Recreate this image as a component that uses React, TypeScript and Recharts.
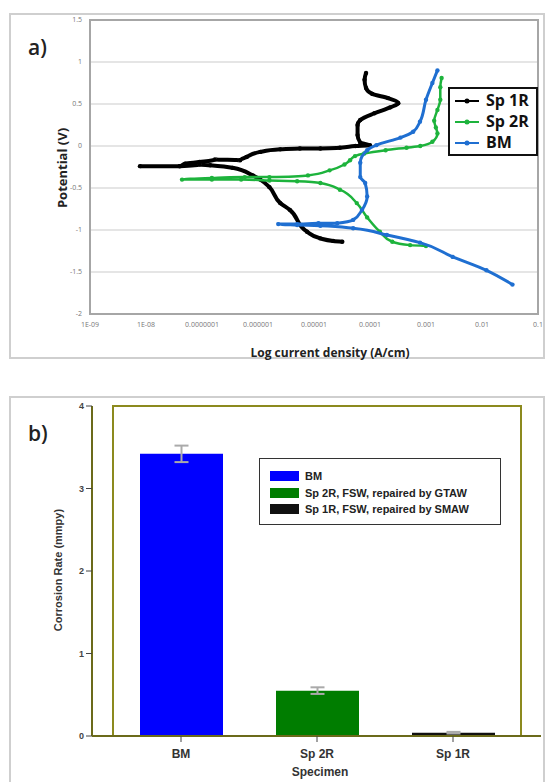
import React from 'react';
import {
  ScatterChart, Scatter, XAxis, YAxis, CartesianGrid, ReferenceArea,
  BarChart, Bar, Cell, ErrorBar,
} from 'recharts';

// ---- a) polarization curves (current density A/cm, potential V) ----
const sp1rCurrent = [3.2e-5, 2.2e-5, 1.3e-5, 7.5e-6, 3.7e-6, 2.5e-6, 1.6e-6, 1.1e-6, 8e-7, 3.5e-7, 1.4e-7, 9e-8, 4e-8, 7.8e-9,
  4e-8, 5e-8, 9e-8, 1.7e-7, 4.8e-7, 6.3e-7, 1.1e-6, 2.5e-6, 5.6e-6, 1.3e-5, 2.9e-5, 5.5e-5, 1e-4,
  6.7e-5, 6e-5, 6e-5, 6.7e-5, 1.2e-4, 2.3e-4, 3.2e-4, 2.1e-4, 1.1e-4, 8.5e-5, 8e-5, 8.5e-5];
const sp1rPotential = [-1.14, -1.13, -1.1, -1.02, -0.76, -0.68, -0.49, -0.4, -0.35, -0.26, -0.23, -0.22, -0.24, -0.24,
  -0.24, -0.21, -0.19, -0.16, -0.17, -0.13, -0.07, -0.04, -0.03, -0.03, -0.02, 0, 0.01,
  0.04, 0.13, 0.25, 0.31, 0.39, 0.46, 0.51, 0.57, 0.62, 0.69, 0.79, 0.87];

const sp2rCurrent = [1.0e-3, 5.2e-4, 2.5e-4, 1.5e-4, 8.9e-5, 5.8e-5, 2.9e-5, 1.3e-5, 5e-6, 1.6e-6, 5e-7, 1.5e-7, 4.4e-8,
  1.5e-7, 5.8e-7, 1.6e-6, 7.8e-6, 1.9e-5, 3.5e-5, 4.4e-5, 5.4e-5, 7.9e-5, 1.9e-4, 4.5e-4, 7.9e-4, 1.3e-3,
  1.6e-3, 1.5e-3, 1.4e-3, 1.6e-3, 1.8e-3, 1.8e-3, 1.9e-3];
const sp2rPotential = [-1.19, -1.18, -1.14, -1.02, -0.85, -0.68, -0.52, -0.44, -0.42, -0.41, -0.4, -0.4, -0.4,
  -0.38, -0.37, -0.37, -0.35, -0.29, -0.22, -0.17, -0.12, -0.09, -0.05, -0.02, 0, 0.05,
  0.15, 0.22, 0.3, 0.43, 0.55, 0.7, 0.81];

const bmCurrent = [3.5e-2, 1.2e-2, 3e-3, 7.8e-4, 2e-4, 5e-5, 1.3e-5, 5e-6, 2.3e-6,
  5e-6, 1.2e-5, 2.6e-5, 5e-5, 7.2e-5, 8.9e-5, 8.2e-5, 6.7e-5, 6.7e-5, 8.9e-5, 1.3e-4, 3.5e-4, 5.9e-4, 7.8e-4, 1.0e-3, 1.3e-3, 1.6e-3];
const bmPotential = [-1.65, -1.48, -1.32, -1.15, -1.06, -0.98, -0.95, -0.94, -0.93,
  -0.93, -0.92, -0.92, -0.88, -0.76, -0.6, -0.44, -0.37, -0.2, -0.05, 0.01, 0.1, 0.17, 0.29, 0.55, 0.75, 0.9];

const xTicks = [1e-9, 1e-8, 1e-7, 1e-6, 1e-5, 1e-4, 1e-3, 1e-2, 1e-1];
const xTickLabels = ['1E-09', '1E-08', '0.0000001', '0.000001', '0.00001', '0.0001', '0.001', '0.01', '0.1'];
const yTicks = [-2, -1.5, -1, -0.5, 0, 0.5, 1, 1.5];

// ---- b) corrosion rate ----
const specimens = ['BM', 'Sp 2R', 'Sp 1R'];
const corrosionRate = [3.42, 0.55, 0.04];
const rateError = [0.1, 0.04, 0.01];
const barColors = ['#0000ff', '#007d00', '#111111'];
const barLegend = ['BM', 'Sp 2R, FSW, repaired by GTAW', 'Sp 1R, FSW, repaired by SMAW'];

// x is plotted as log10(current) on a linear axis
const zip = (xs: number[], ys: number[]) => xs.map((x, i) => ({ x: Math.log10(x), y: ys[i] }));
const curves = [
  { name: 'Sp 1R', color: '#000000', data: zip(sp1rCurrent, sp1rPotential), width: 4 },
  { name: 'Sp 2R', color: '#1db33c', data: zip(sp2rCurrent, sp2rPotential), width: 2.5 },
  { name: 'BM', color: '#1f6fd1', data: zip(bmCurrent, bmPotential), width: 3 },
];
const logTicks = xTicks.map(t => Math.log10(t));
const barData = specimens.map((s, i) => ({ name: s, rate: corrosionRate[i], err: rateError[i] }));

const font = 'Liberation Sans, Arial, sans-serif';
const calibri = 'Open Sans, Liberation Sans, sans-serif';

function CurveLegend() {
  return (
    <div style={{ position: 'absolute', left: 448, top: 87, width: 90, height: 69, boxSizing: 'border-box', border: '2.5px solid #111', background: '#fff', padding: '1px 0 0 4px', fontFamily: calibri, fontWeight: 700, fontSize: 16, lineHeight: '21px', color: '#111' }}>
      {curves.map(c => (
        <div key={c.name} style={{ display: 'flex', alignItems: 'center' }}>
          <svg width={26} height={10} style={{ marginRight: 6 }}>
            <line x1={1} y1={5} x2={25} y2={5} stroke={c.color} strokeWidth={2} />
            <circle cx={13} cy={5} r={2.5} fill={c.color} />
          </svg>
          {c.name}
        </div>
      ))}
    </div>
  );
}

function BarLegend() {
  return (
    <div style={{ position: 'absolute', left: 259, top: 458, border: '1.5px solid #333', background: '#fff', width: 242, height: 67, boxSizing: 'border-box', padding: '9px 0 0 10px', fontFamily: font, fontWeight: 700, fontSize: 11, color: '#222' }}>
      {barLegend.map((t, i) => (
        <div key={t} style={{ display: 'flex', alignItems: 'center', height: 16.5 }}>
          <div style={{ width: 29, height: 10, background: barColors[i], marginRight: 6 }} />
          {t}
        </div>
      ))}
    </div>
  );
}

const Dot = (color: string) => (p: any) => <circle cx={p.cx} cy={p.cy} r={2.2} fill={color} />;

export default function App() {
  return (
    <div style={{ position: 'absolute', left: 0, top: 0, width: 548, height: 782, background: '#fff', overflow: 'hidden' }}>
      {/* panel a */}
      <div style={{ position: 'absolute', left: 9, top: 13, width: 536, height: 346, border: '2px solid #cfcfcf', boxSizing: 'border-box' }} />
      <div style={{ position: 'absolute', left: 28, top: 33, fontFamily: calibri, fontSize: 21, fontWeight: 600, color: '#222' }}>a)</div>
      <div style={{ position: 'absolute', left: 0, top: 0 }}>
        <ScatterChart width={548} height={360} margin={{ top: 20, right: 10, left: 0, bottom: 16 }}>
          <CartesianGrid vertical={false} stroke="#dddddd" strokeWidth={1.5} />
          <ReferenceArea y1={-2} y2={1.5} fill="none" stroke="#a6a6a6" strokeWidth={2} />
          <XAxis
            type="number" dataKey="x" domain={[-9, -1]} ticks={logTicks} allowDataOverflow
            tickFormatter={(v: number) => xTickLabels[logTicks.findIndex(t => Math.abs(t - v) < 0.01)] ?? ''}
            tick={{ fontSize: 7, fill: '#777', fontFamily: calibri }} tickLine={false}
            axisLine={{ stroke: '#a6a6a6', strokeWidth: 2 }} height={30} interval={0}
          />
          <YAxis
            type="number" dataKey="y" domain={[-2, 1.5]} ticks={yTicks} width={90}
            tick={{ fontSize: 7, fill: '#777', fontFamily: calibri }} tickLine={false}
            axisLine={{ stroke: '#a6a6a6', strokeWidth: 2 }}
          />
          {curves.map(c => (
            <Scatter
              key={c.name} name={c.name} data={c.data} fill={c.color}
              line={{ stroke: c.color, strokeWidth: c.width }} lineJointType="monotoneY"
              shape={Dot(c.color)} isAnimationActive={false}
            />
          ))}
        </ScatterChart>
      </div>
      <CurveLegend />
      <div style={{ position: 'absolute', left: 62, top: 168, transform: 'translate(-50%, -50%) rotate(-90deg)', fontFamily: calibri, fontWeight: 700, fontSize: 13, color: '#222', whiteSpace: 'nowrap' }}>Potential (V)</div>
      <div style={{ position: 'absolute', left: 330, top: 352, transform: 'translate(-50%, -50%)', fontFamily: calibri, fontWeight: 700, fontSize: 12, color: '#222', whiteSpace: 'nowrap' }}>Log current density (A/cm)</div>

      {/* panel b */}
      <div style={{ position: 'absolute', left: 9, top: 396, width: 536, height: 400, border: '2px solid #cfcfcf', boxSizing: 'border-box' }} />
      <div style={{ position: 'absolute', left: 28, top: 419, fontFamily: calibri, fontSize: 21, fontWeight: 600, color: '#222' }}>b)</div>
      <div style={{ position: 'absolute', left: 0, top: 370 }}>
        <BarChart width={548} height={412} data={barData} margin={{ top: 36, right: 7, left: 0, bottom: 0 }} barCategoryGap={0}>
          <ReferenceArea y1={0} y2={4} fill="none" stroke="#8c8a1e" strokeWidth={2} />
          <XAxis
            dataKey="name" height={46} padding={{ left: 21, right: 20 }}
            tick={{ fontSize: 12, fontWeight: 700, fill: '#333', fontFamily: font }}
            tickLine={{ stroke: '#444' }} tickSize={6} tickMargin={7}
            axisLine={{ stroke: '#6b6a1a', strokeWidth: 2 }}
          />
          <YAxis
            domain={[0, 4]} ticks={[0, 1, 2, 3, 4]} width={92}
            tick={{ fontSize: 9, fontWeight: 700, fill: '#444', fontFamily: font }}
            tickLine={{ stroke: '#444' }} tickSize={6}
            axisLine={{ stroke: '#6b6a1a', strokeWidth: 2 }}
          />
          <Bar dataKey="rate" barSize={83} isAnimationActive={false}>
            {barData.map((d, i) => <Cell key={d.name} fill={barColors[i]} />)}
            <ErrorBar dataKey="err" width={7} stroke="#aaaaaa" strokeWidth={2} />
          </Bar>
        </BarChart>
      </div>
      <BarLegend />
      <div style={{ position: 'absolute', left: 58, top: 570, transform: 'translate(-50%, -50%) rotate(-90deg)', fontFamily: font, fontWeight: 700, fontSize: 11, color: '#333', whiteSpace: 'nowrap' }}>Corrosion Rate (mmpy)</div>
      <div style={{ position: 'absolute', left: 320, top: 772, transform: 'translate(-50%, -50%)', fontFamily: font, fontWeight: 700, fontSize: 12, color: '#333', whiteSpace: 'nowrap' }}>Specimen</div>
    </div>
  );
}
